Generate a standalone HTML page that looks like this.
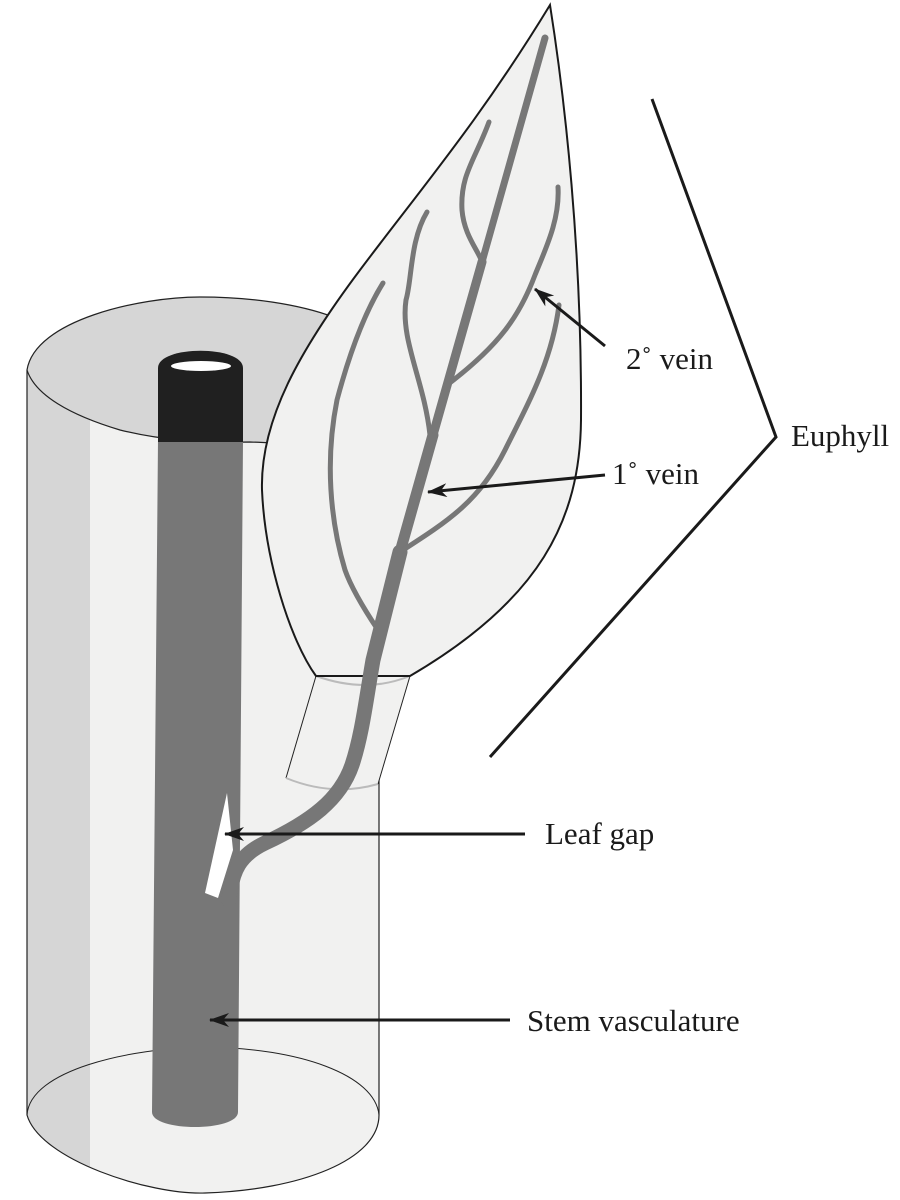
<!DOCTYPE html>
<html><head><meta charset="utf-8"><style>
html,body{margin:0;padding:0;background:#fff}
svg{display:block}
text{font-family:"Liberation Serif",serif;font-size:31px;fill:#1a1a1a}
</style></head><body>
<svg width="900" height="1200" viewBox="0 0 900 1200" xmlns="http://www.w3.org/2000/svg">
<defs>
<marker id="ah" viewBox="0 0 20 14" refX="19" refY="7" markerWidth="20" markerHeight="14" markerUnits="userSpaceOnUse" orient="auto">
<path d="M20,7 L0,0 L6,7 L0,14 Z" fill="#1a1a1a"/>
</marker>
<clipPath id="cyl"><path d="M27,370 L27,1115 C40,1160 150,1195 205,1193 C300,1190 379,1160 379,1115 L379,370 Z"/></clipPath>
</defs>
<path d="M27,370 L27,1115 C40,1160 150,1195 205,1193 C300,1190 379,1160 379,1115 L379,370 Z" fill="#f1f1f0"/>
<rect x="27" y="300" width="63" height="900" fill="#d6d6d6" clip-path="url(#cyl)"/>
<path d="M27,370 L27,1115 C40,1160 150,1195 205,1193 C300,1190 379,1160 379,1115 L379,440" fill="none" stroke="#222" stroke-width="1.2"/>
<path d="M27,1115 C30,1070 130,1048 205,1047 C300,1048 375,1075 379,1115" fill="none" stroke="#222" stroke-width="1"/>
<path d="M27,370 C35,320 140,297 200,297 C270,297 320,310 345,322 L340,440 C300,445 280,443 250,442 C200,443 160,440 120,430 C70,415 35,395 27,370 Z" fill="#d6d6d6" stroke="#222" stroke-width="1.2"/>
<path d="M158,440 L243,440 L238,1112 C238,1132 152,1132 152,1112 Z" fill="#777"/>
<path d="M158,368 C158,345 243,345 243,368 L243,442 L158,442 Z" fill="#202020"/>
<ellipse cx="201" cy="366" rx="30" ry="5" fill="#fff"/>
<path d="M227,793 L233,850 L218,898 L205,893 Z" fill="#fff"/>
<!-- petiole -->
<path d="M316,676 L286,778 C320,792 350,792 378,784 L410,676 Z" fill="#f1f1f0"/>
<path d="M316,676 L286,778 M378,784 L410,676" fill="none" stroke="#222" stroke-width="1"/>
<path d="M316,676 C350,688 380,688 410,676" fill="none" stroke="#bbb" stroke-width="2"/>
<path d="M286,778 C320,792 350,792 378,784" fill="none" stroke="#bbb" stroke-width="2"/>
<!-- leaf -->
<path d="M550,5 C565,100 582,250 581,420 C580,520 540,600 410,676 L316,676 C290,640 265,560 262,490 C260,420 300,350 360,270 C420,190 480,120 550,5 Z" fill="#f1f1f0" stroke="#1a1a1a" stroke-width="2"/>
<g fill="none" stroke="#777" stroke-linecap="round">
<path d="M229,900 C232,870 240,855 265,843 C310,822 340,800 352,765 C362,735 366,700 373,660 L400,552" stroke-width="15"/>
<path d="M545,38 L482,262" stroke-width="7"/>
<path d="M482,262 L433,435" stroke-width="9"/>
<path d="M433,435 L400,552" stroke-width="11"/>
<path d="M489,122 C475,160 460,175 462,210 C464,235 478,250 482,262" stroke-width="5"/>
<path d="M558,187 C560,220 545,250 535,275 C520,315 500,345 447,385" stroke-width="5"/>
<path d="M427,212 C410,240 412,280 406,300 C400,340 424,380 430,435" stroke-width="5"/>
<path d="M559,305 C552,360 530,400 505,450 C480,500 450,520 400,552" stroke-width="5"/>
<path d="M383,283 C360,320 345,370 337,400 C325,460 330,520 345,570 C352,590 368,615 378,630" stroke-width="5"/>
</g>
<path d="M652,99 L776,437 L490,757" fill="none" stroke="#1a1a1a" stroke-width="3"/>
<g stroke="#1a1a1a" stroke-width="3" fill="none">
<line x1="605" y1="346" x2="535" y2="289" marker-end="url(#ah)"/>
<line x1="605" y1="475" x2="428" y2="492" marker-end="url(#ah)"/>
<line x1="525" y1="834" x2="225" y2="834" marker-end="url(#ah)"/>
<line x1="510" y1="1020" x2="210" y2="1020" marker-end="url(#ah)"/>
</g>
<text x="626" y="369">2˚ vein</text>
<text x="612" y="484">1˚ vein</text>
<text x="791" y="446">Euphyll</text>
<text x="545" y="844">Leaf gap</text>
<text x="527" y="1031">Stem vasculature</text>
</svg>
</body></html>
